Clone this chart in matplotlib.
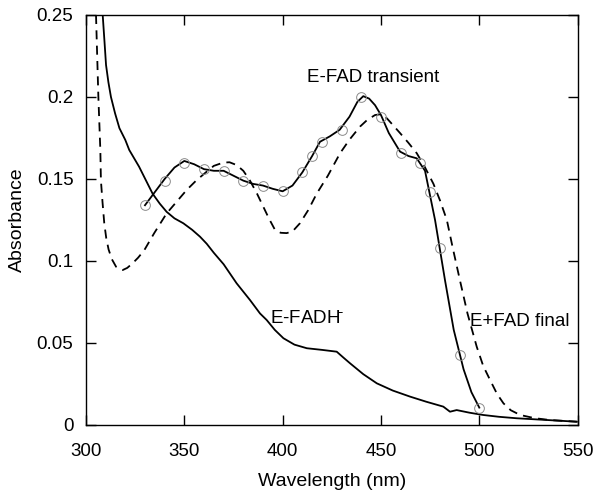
import matplotlib
matplotlib.use("Agg")
import matplotlib.pyplot as plt

plt.rcParams['font.family'] = ['Liberation Sans', 'DejaVu Sans']

# E-FAD transient, measured points (circles)
trans_pts_wl = [330, 340, 350, 360, 370, 380, 390, 400, 410, 415, 420, 430,
                440, 450, 460, 470, 475, 480, 490, 500]
trans_pts_a = [0.134, 0.149, 0.160, 0.156, 0.155, 0.149, 0.146, 0.1427, 0.154,
               0.164, 0.1726, 0.180, 0.1998, 0.188, 0.1657, 0.1595, 0.142,
               0.1077, 0.0425, 0.0106]

# E-FAD transient, fitted line
trans_wl = [330, 335, 340, 345, 350, 355, 360, 365, 370, 375, 380, 385, 390,
            395, 400, 405, 410, 415, 419, 424, 429, 434, 438, 441, 444, 447,
            450, 454, 459.7, 464, 468.2, 472.4, 477.5, 482.6, 487, 492, 496, 500]
trans_a = [0.134, 0.142, 0.150, 0.157, 0.161, 0.159, 0.156, 0.155, 0.155,
           0.152, 0.149, 0.147, 0.146, 0.144, 0.1425, 0.146, 0.154, 0.164,
           0.1727, 0.176, 0.180, 0.188, 0.197, 0.2005, 0.199, 0.195, 0.189,
           0.178, 0.1667, 0.164, 0.1626, 0.155, 0.125, 0.088, 0.058, 0.034,
           0.020, 0.0106]

# E+FAD final (dashed)
final_wl = [305.1, 306.3, 307.3, 307.6, 308.4, 309.3, 310.3, 311.5, 313.2,
            315.3, 317, 318.7, 321, 323.7, 326.5, 329.7, 334.7, 341,
            346, 351.2, 356, 361.4, 365, 369.8, 373, 376.6, 380, 383.4, 387,
            390.2, 393, 396.1, 399, 402, 405, 408.8, 413, 417.3, 423, 429.2,
            434, 439.4, 443, 447, 450, 453, 456, 459.7, 464, 468.2, 472,
            476.7, 480, 483.5, 486.5, 490.2, 494, 498.7, 502, 505.5, 509,
            512.3, 516, 520.8, 528, 536, 543, 549.6]
final_a = [0.25, 0.20, 0.1677, 0.149, 0.136, 0.123, 0.114, 0.107, 0.101,
           0.0965, 0.0952, 0.0945, 0.0958, 0.0986, 0.102, 0.1067, 0.117,
           0.129, 0.136, 0.1433, 0.149, 0.1545, 0.158, 0.160, 0.1602,
           0.1585, 0.155, 0.149, 0.141, 0.133, 0.126, 0.119, 0.1172, 0.117,
           0.118, 0.123, 0.131, 0.141, 0.152, 0.1657, 0.174, 0.182, 0.186,
           0.189, 0.1895, 0.187, 0.183, 0.178, 0.172, 0.1657, 0.158, 0.147,
           0.137, 0.125, 0.108, 0.088, 0.068, 0.0477, 0.036, 0.0274, 0.019,
           0.0132, 0.009, 0.0061, 0.0042, 0.003, 0.0025, 0.002]

# E-FADH- (solid)
red_wl = [308.5, 309.4, 310.2, 311.4, 312.7, 314.8, 317, 320, 322, 327,
          333.9, 337.5, 341, 345, 349.5, 354, 358, 361.4, 365, 370, 376.6,
          383.4, 388.5, 391.9, 396, 400.4, 406, 412.3, 420, 427.5, 431,
          434.3, 441, 447.9, 456, 464.8, 473, 481.7, 485.1, 488.5, 495, 502,
          510, 519, 535, 549.6]
red_a = [0.25, 0.234, 0.2195, 0.209, 0.20, 0.19, 0.181, 0.1738, 0.1677,
         0.1575, 0.141, 0.135, 0.130, 0.126, 0.123, 0.119, 0.1148, 0.1105,
         0.105, 0.098, 0.0864, 0.0762, 0.068, 0.064, 0.058, 0.0529, 0.049,
         0.0468, 0.0458, 0.0447, 0.041, 0.0376, 0.031, 0.0254, 0.021,
         0.0173, 0.0142, 0.0112, 0.0081, 0.0091, 0.0075, 0.0061, 0.005,
         0.0041, 0.003, 0.002]

xticks = [300, 350, 400, 450, 500, 550]
yticks = [0, 0.05, 0.1, 0.15, 0.2, 0.25]
ytick_labels = ['0', '0.05', '0.1', '0.15', '0.2', '0.25']

fig = plt.figure(figsize=(6, 4.98), dpi=100)
ax = fig.add_axes([0.1433, 0.1466, 0.8194, 0.8233])

ax.plot(red_wl, red_a, color='black', lw=1.3)
ax.plot(final_wl, final_a, color='black', lw=1.3, ls=(0, (5, 3.5)))
ax.plot(trans_wl, trans_a, color='black', lw=1.3)
ax.plot(trans_pts_wl, trans_pts_a, ls='none', marker='o', ms=7,
        mfc='none', mec='#8a8a8a', mew=0.7)

ax.text(446, 0.212, 'E-FAD transient', ha='center', va='center', fontsize=13.5)
ax.text(393.6, 0.065, 'E-FADH$^{\\bar{}}$', ha='left', va='center', fontsize=13.5)
ax.text(495.3, 0.0634, 'E+FAD final', ha='left', va='center', fontsize=13.5)

ax.set_xlim(300, 550)
ax.set_ylim(0, 0.25)
ax.set_xticks(xticks)
ax.set_yticks(yticks)
ax.set_yticklabels(ytick_labels)
ax.tick_params(direction='in', length=7, width=1, top=True, right=True,
               labelsize=13.5)
ax.tick_params(axis='x', pad=13)
ax.tick_params(axis='y', pad=9)
for s in ax.spines.values():
    s.set_linewidth(1)
ax.set_xlabel('Wavelength (nm)', fontsize=14, labelpad=9)
ax.set_ylabel('Absorbance', fontsize=14, labelpad=8)

fig.savefig('out.png', dpi=100)
